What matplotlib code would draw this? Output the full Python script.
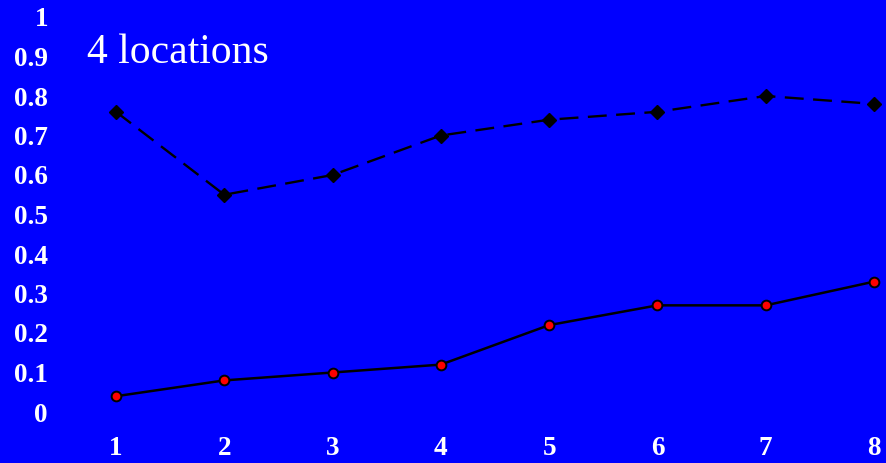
import matplotlib
matplotlib.use("Agg")
import matplotlib.pyplot as plt

BLUE = "#0000FF"

# ---- data -----------------------------------------------------------------
steps = [1, 2, 3, 4, 5, 6, 7, 8]
upper = [0.76, 0.55, 0.60, 0.70, 0.74, 0.76, 0.80, 0.78]
lower = [0.04, 0.08, 0.10, 0.12, 0.22, 0.27, 0.27, 0.33]
yticks = [0, 0.1, 0.2, 0.3, 0.4, 0.5, 0.6, 0.7, 0.8, 0.9, 1]
ylabels = ["0", "0.1", "0.2", "0.3", "0.4", "0.5", "0.6", "0.7", "0.8", "0.9", "1"]
title = "4 locations"

plt.rcParams.update({
    "font.family": "Liberation Serif",
})

# ---- figure ---------------------------------------------------------------
fig = plt.figure(figsize=(8.86, 4.63), dpi=100, facecolor=BLUE)
ax = fig.add_axes([116 / 886, 51 / 463, (874 - 116) / 886, (412 - 17) / 463])
ax.set_facecolor(BLUE)
for s in ax.spines.values():
    s.set_visible(False)

ax.plot(steps, upper, color="black", lw=1.7, ls=(0, (8, 4)),
        marker="D", ms=7.5, mfc="black", mec="black", clip_on=False, zorder=3)
ax.plot(steps, lower, color="black", lw=1.8, ls="-",
        marker="o", ms=7, mfc="red", mec="black", mew=1.4, clip_on=False, zorder=3)

ax.set_xlim(1, 8)
ax.set_ylim(0, 1)
ax.set_xticks(steps)
ax.set_xticklabels([str(s) for s in steps])
ax.set_yticks(yticks)
ax.set_yticklabels(ylabels)
ax.tick_params(axis="both", length=0, labelcolor="white", labelsize=19.5)
ax.tick_params(axis="y", pad=49)
ax.tick_params(axis="x", pad=17)
for lab in ax.get_xticklabels() + ax.get_yticklabels():
    lab.set_fontweight("bold")

fig.text(87 / 886, 1 - 63 / 463, title, color="white", fontsize=30,
         ha="left", va="baseline")

fig.savefig("out.png", dpi=100, facecolor=BLUE)
